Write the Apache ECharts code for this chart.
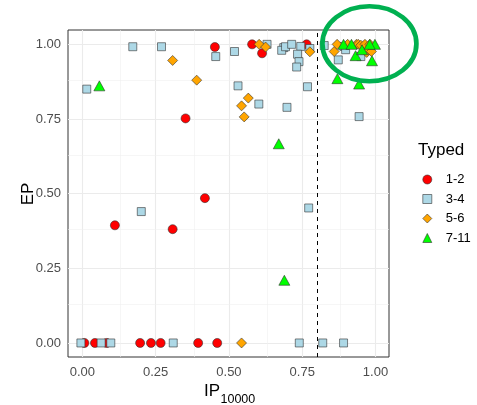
<!DOCTYPE html>
<html>
<head>
<meta charset="utf-8">
<script src="https://cdn.jsdelivr.net/npm/echarts@6/dist/echarts.min.js"></script>
<style>html,body{margin:0;padding:0;background:#fff}#c{width:477px;height:405px}</style>
</head>
<body>
<div id="c"></div>
<script>
// ---- data ----
const groupNames = ['1-2', '3-4', '5-6', '7-11'];
const xTicks = [0, 0.25, 0.5, 0.75, 1];
const yTicks = [0, 0.25, 0.5, 0.75, 1];
const tickLabels = ['0.00', '0.25', '0.50', '0.75', '1.00'];
const minorTicks = [0.125, 0.375, 0.625, 0.875];
const cutoffIP = 0.8;

const typed12 = [
  [0.452, 0.991], [0.579, 1.0], [0.613, 0.970], [0.765, 1.0],
  [0.352, 0.752], [0.418, 0.485], [0.111, 0.394], [0.308, 0.381],
  [0.007, 0], [0.043, 0], [0.083, 0], [0.197, 0], [0.234, 0], [0.267, 0], [0.395, 0], [0.460, 0]
];
const typed34 = [
  [0.172, 0.992], [0.270, 0.992], [0.455, 0.959], [0.519, 0.976], [0.015, 0.850],
  [0.531, 0.861], [0.602, 0.800], [0.698, 0.789], [0.201, 0.440], [0.772, 0.452],
  [0.944, 0.758], [0.768, 0.858], [0.630, 1.0], [0.687, 0.989], [0.680, 0.980],
  [0.693, 0.992], [0.714, 1.0], [0.745, 0.993], [0.776, 0.986], [0.734, 0.967],
  [0.739, 0.942], [0.731, 0.924], [0.825, 0.996], [0.892, 0.993], [0.898, 0.982],
  [0.873, 0.948], [0.950, 0.959],
  [-0.005, 0], [0.064, 0], [0.097, 0], [0.310, 0], [0.740, 0], [0.820, 0], [0.891, 0]
];
const typed56 = [
  [0.308, 0.946], [0.390, 0.880], [0.566, 0.820], [0.543, 0.794], [0.552, 0.757],
  [0.603, 1.0], [0.625, 0.991], [0.776, 0.975], [0.859, 0.976], [0.869, 1.0],
  [0.905, 1.0], [0.935, 1.0], [0.941, 1.0], [0.950, 0.997], [0.964, 1.0],
  [0.970, 0.973], [0.975, 0.982], [0.981, 1.0], [0.986, 0.976], [0.543, 0]
];
const typed711 = [
  [0.058, 0.861], [0.670, 0.667], [0.689, 0.210], [0.870, 0.885], [0.944, 0.867],
  [0.932, 0.962], [0.988, 0.945], [0.954, 0.982], [0.998, 1.0], [0.891, 1.0],
  [0.918, 1.0], [0.980, 1.0]
];
const highlightCenter = [0.986, 1.002];

// ---- chart ----
const chart = echarts.init(document.getElementById('c'), null, {renderer: 'canvas'});
const FONT = "'Liberation Sans', Arial, sans-serif";

const gridLines = [];
xTicks.forEach(v => gridLines.push({xAxis: v, lineStyle: {color: '#ebebeb', width: 1.1, type: 'solid'}}));
yTicks.forEach(v => gridLines.push({yAxis: v, lineStyle: {color: '#ebebeb', width: 1.1, type: 'solid'}}));
minorTicks.forEach(v => gridLines.push({xAxis: v, lineStyle: {color: '#f0f0f0', width: 0.6, type: 'solid'}}));
minorTicks.forEach(v => gridLines.push({yAxis: v, lineStyle: {color: '#f0f0f0', width: 0.6, type: 'solid'}}));

const border = '#333333';
function pts(name, data, symbol, size, color) {
  return {
    name, type: 'scatter', data, symbol, symbolSize: size, z: 5,
    itemStyle: {color, borderColor: border, borderWidth: 0.6, opacity: 1},
    emphasis: {disabled: true}
  };
}

const option = {
  backgroundColor: '#ffffff',
  animation: false,
  grid: {left: 68, top: 30, width: 321, height: 327, show: true, borderColor: '#333333', borderWidth: 1, backgroundColor: 'transparent', containLabel: false},
  xAxis: {
    type: 'value', min: -0.049, max: 1.046,
    axisLine: {show: false},
    splitLine: {show: false},
    axisTick: {show: true, length: 4, lineStyle: {color: '#333333', width: 1}, customValues: xTicks},
    axisLabel: {customValues: xTicks, formatter: v => tickLabels[xTicks.indexOf(v)] ?? v.toFixed(2), color: '#4d4d4d', fontSize: 13, fontFamily: FONT, margin: 9}
  },
  yAxis: {
    type: 'value', min: -0.047, max: 1.048,
    axisLine: {show: false},
    splitLine: {show: false},
    axisTick: {show: true, length: 4, lineStyle: {color: '#333333', width: 1}, customValues: yTicks},
    axisLabel: {customValues: yTicks, formatter: v => tickLabels[yTicks.indexOf(v)] ?? v.toFixed(2), color: '#4d4d4d', fontSize: 13, fontFamily: FONT, margin: 7}
  },
  title: {text: 'Typed', left: 418, top: 142, padding: 0, textStyle: {fontSize: 17, fontWeight: 'normal', color: '#000', fontFamily: FONT}},
  legend: {
    orient: 'vertical', left: 422.5, top: 173, padding: 0, itemWidth: 9, itemHeight: 9, itemGap: 6.5,
    data: groupNames,
    itemStyle: {borderWidth: 0.6, borderColor: border},
    textStyle: {fontSize: 13, color: '#000', fontFamily: FONT, padding: [0, 0, 0, 9]},
    selectedMode: false
  },
  series: [
    {
      type: 'scatter', data: [], z: 1, silent: true,
      markLine: {silent: true, symbol: ['none', 'none'], label: {show: false}, animation: false, data: gridLines}
    },
    pts(groupNames[0], typed12, 'circle', 9, '#ff0000'),
    pts(groupNames[1], typed34, 'rect', 8, '#add8e6'),
    pts(groupNames[2], typed56, 'diamond', 10, '#ffa500'),
    pts(groupNames[3], typed711, 'triangle', [11, 10], '#00ff00'),
    {
      type: 'scatter', data: [], z: 6, silent: true,
      markLine: {silent: true, symbol: ['none', 'none'], label: {show: false}, animation: false,
        data: [{xAxis: cutoffIP, lineStyle: {color: '#000', width: 1, type: [4, 4]}}]}
    }
  ]
};
chart.setOption(option);

const c = chart.convertToPixel({gridIndex: 0}, highlightCenter);
chart.setOption({
  graphic: [
    {type: 'ellipse', shape: {cx: c[0] - 2, cy: c[1], rx: 47, ry: 37.5}, style: {fill: 'none', stroke: '#00b050', lineWidth: 4.7}, z: 100, silent: true},
    {type: 'text', x: 204, y: 391.5, style: {text: 'IP', font: '17px ' + FONT, fill: '#000', align: 'left', verticalAlign: 'middle'}},
    {type: 'text', x: 220.5, y: 400, style: {text: '10000', font: '12.5px ' + FONT, fill: '#000', align: 'left', verticalAlign: 'middle'}},
    {type: 'text', x: 28, y: 194, rotation: Math.PI / 2, style: {text: 'EP', font: '17px ' + FONT, fill: '#000', align: 'center', verticalAlign: 'middle'}}
  ]
});
</script>
</body>
</html>
